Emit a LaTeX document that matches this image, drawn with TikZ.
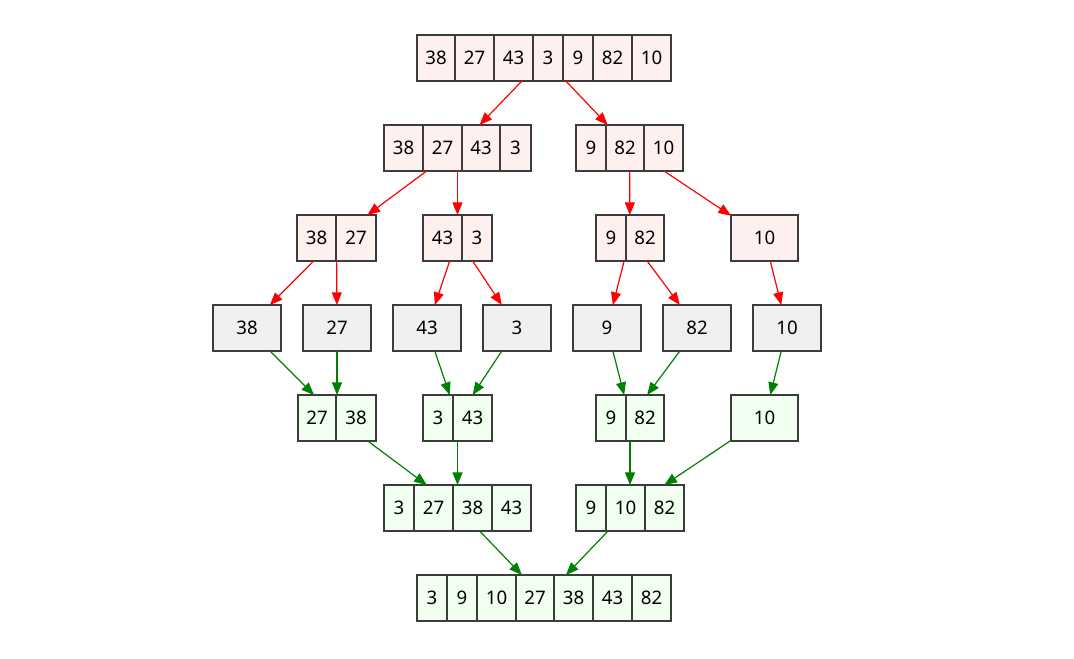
\documentclass[tikz,border=0pt]{standalone}
\usepackage{fontspec}
\setmainfont{Noto Sans}
\usetikzlibrary{arrows.meta}
\definecolor{rfill}{RGB}{255,240,240}
\definecolor{gfill}{RGB}{240,255,240}
\definecolor{kfill}{RGB}{240,240,240}
\definecolor{bord}{RGB}{60,60,60}
\definecolor{gedge}{RGB}{0,128,0}
\tikzset{
  cellred/.style={fill=rfill,draw=bord,line width=0.9pt},
  cellgreen/.style={fill=gfill,draw=bord,line width=0.9pt},
  cellgray/.style={fill=kfill,draw=bord,line width=0.9pt},
  outer/.style={inner sep=0pt,outer sep=0pt,minimum height=34.5pt},
  lbl/.style={font=\fontsize{14}{16}\selectfont,inner sep=0pt},
  redge/.style={draw=red,line width=0.9pt,-{Triangle[length=9.5pt,width=7.5pt]}},
  gredge/.style={draw=gedge,line width=0.9pt,-{Triangle[length=9.5pt,width=7.5pt]}},
}
% #1 name, #2 cell style, #3 y top, #4 x left, #5 x right, #6 list xright/label
\newcommand\rec[6]{%
  \node[outer,minimum width={(#5-#4)*0.75pt}] (#1) at ({(#4+#5)/2},{#3+23}) {};
  \foreach \b/\t [remember=\b as \a (initially #4)] in {#6} {
    \draw[#2] (\a,#3) rectangle (\b,{#3+46});
    \node[lbl] at ({(\a+\b)/2},{#3+23}) {\t};
  }%
}
\begin{document}
\begin{tikzpicture}[x=0.75pt,y=-0.75pt]
\useasboundingbox (0,0) rectangle (1074,658);
% level 1
\rec{r1}{cellred}{35}{417}{671}{455/38,494/27,533/43,563/3,593/9,632/82,671/10}
% level 2
\rec{r2a}{cellred}{125}{384}{531}{423/38,462/27,500/43,531/3}
\rec{r2b}{cellred}{125}{576}{683}{606/9,644/82,683/10}
% level 3
\rec{r3a}{cellred}{215}{297}{376}{336/38,376/27}
\rec{r3b}{cellred}{215}{423}{492}{462/43,492/3}
\rec{r3c}{cellred}{215}{596}{664}{626/9,664/82}
\rec{r3d}{cellred}{215}{731}{798}{798/10}
% level 4
\rec{l1}{cellgray}{305}{213}{281}{281/38}
\rec{l2}{cellgray}{305}{303}{371}{371/27}
\rec{l3}{cellgray}{305}{393}{461}{461/43}
\rec{l4}{cellgray}{305}{483}{551}{551/3}
\rec{l5}{cellgray}{305}{573}{641}{641/9}
\rec{l6}{cellgray}{305}{663}{731}{731/82}
\rec{l7}{cellgray}{305}{753}{821}{821/10}
% level 5
\rec{m1}{cellgreen}{395}{298}{376}{336/27,376/38}
\rec{m2}{cellgreen}{395}{423}{492}{453/3,492/43}
\rec{m3}{cellgreen}{395}{596}{664}{626/9,664/82}
\rec{m4}{cellgreen}{395}{731}{798}{798/10}
% level 6
\rec{n1}{cellgreen}{485}{384}{531}{414/3,453/27,492/38,531/43}
\rec{n2}{cellgreen}{485}{576}{684}{606/9,645/10,684/82}
% level 7
\rec{f}{cellgreen}{575}{417}{671}{447/3,477/9,516/10,554/27,593/38,632/43,671/82}
% split edges
\draw[redge] (r1) -- (r2a);
\draw[redge] (r1) -- (r2b);
\draw[redge] (r2a) -- (r3a);
\draw[redge] (r2a) -- (r3b);
\draw[redge] (r2b) -- (r3c);
\draw[redge] (r2b) -- (r3d);
\draw[redge] (r3a) -- (l1);
\draw[redge] (r3a) -- (l2);
\draw[redge] (r3b) -- (l3);
\draw[redge] (r3b) -- (l4);
\draw[redge] (r3c) -- (l5);
\draw[redge] (r3c) -- (l6);
\draw[redge] (r3d) -- (l7);
% merge edges
\draw[gredge] (l1) -- (m1);
\draw[gredge] (l2) -- (m1);
\draw[gredge] (l3) -- (m2);
\draw[gredge] (l4) -- (m2);
\draw[gredge] (l5) -- (m3);
\draw[gredge] (l6) -- (m3);
\draw[gredge] (l7) -- (m4);
\draw[gredge] (m1) -- (n1);
\draw[gredge] (m2) -- (n1);
\draw[gredge] (m3) -- (n2);
\draw[gredge] (m4) -- (n2);
\draw[gredge] (n1) -- (f);
\draw[gredge] (n2) -- (f);
\end{tikzpicture}
\end{document}
